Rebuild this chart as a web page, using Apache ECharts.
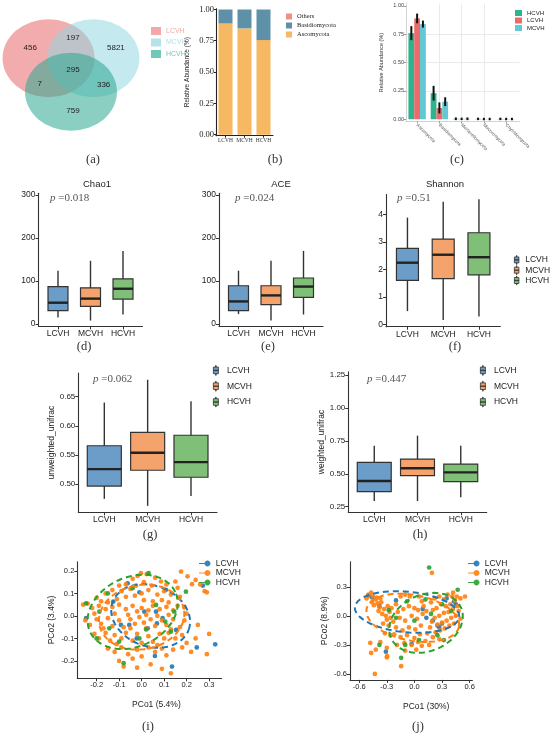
<!DOCTYPE html>
<html>
<head>
<meta charset="utf-8">
<script src="https://cdn.jsdelivr.net/npm/echarts@6/dist/echarts.min.js"></script>
<style>
  html, body { margin: 0; padding: 0; background: #fff; }
  #page { position: relative; width: 550px; height: 736px; }
  .layer { position: absolute; left: 0; top: 0; width: 550px; height: 736px; }
</style>
</head>
<body>
<div id="page"></div>
<script>
// ---------- data ----------
const GROUPS = ['LCVH', 'MCVH', 'HCVH'];

// (a) Venn: L only, L&M, M only, all three, L&H, M&H, H only
const VENN_SETS = ['LCVH', 'MCVH', 'HCVH'];
const VENN_COUNTS = [456, 197, 5821, 295, 7, 336, 759];

// (b) phylum composition per group
const PHYLA_B = ['Ascomycota', 'Basidiomycota', 'Others'];
const ASCO_B = [0.887, 0.848, 0.755];
const BASIDIO_B = [0.111, 0.150, 0.243];
const OTHERS_B = [0.002, 0.002, 0.002];

// (c) mean relative abundance and error per phylum
const PHYLA_C = ['Ascomycota', 'Basidiomycota', 'Mortierellomycota', 'Mucoromycota', 'Chytridiomycota'];
const GROUPS_C = ['HCVH', 'LCVH', 'MCVH'];
const HCVH_C = [0.76, 0.23, 0.004, 0.003, 0.003];
const LCVH_C = [0.89, 0.10, 0.003, 0.002, 0.002];
const MCVH_C = [0.84, 0.155, 0.004, 0.002, 0.002];
const HCVH_C_ERR = [0.053, 0.056, 0.003, 0.002, 0.002];
const LCVH_C_ERR = [0.034, 0.04, 0.002, 0.002, 0.002];
const MCVH_C_ERR = [0.022, 0.03, 0.003, 0.002, 0.002];

// (d)-(h) boxplots: [lower whisker, Q1, median, Q3, upper whisker] for LCVH, MCVH, HCVH
const CHAO1_BOX = [[15, 31, 49.5, 87, 124], [8, 41, 59, 84, 147], [22, 58, 82, 105, 170]];
const ACE_BOX = [[23, 31, 52.5, 89, 124], [8, 45, 66.5, 89, 147], [22, 62, 87, 107, 170]];
const SHANNON_BOX = [[0.48, 1.6, 2.24, 2.76, 3.88], [0.16, 1.66, 2.53, 3.1, 4.46], [0.28, 1.8, 2.44, 3.33, 4.55]];
const UNWEIGHTED_BOX = [[0.475, 0.497, 0.526, 0.566, 0.640], [0.463, 0.524, 0.554, 0.589, 0.679], [0.480, 0.512, 0.538, 0.584, 0.642]];
const WEIGHTED_BOX = [[0.293, 0.364, 0.445, 0.587, 0.713], [0.293, 0.486, 0.542, 0.612, 0.79], [0.321, 0.44, 0.511, 0.574, 0.713]];
const P_VALUES = ['0.018', '0.024', '0.51', '0.062', '0.447'];

// (i) PCoA unweighted
const PCOA_I_LCVH = [[-0.062,0.145],[-0.01,0.105],[0.108,0.116],[0.272,0.135],[-0.126,0.064],[-0.247,-0.01],[0.012,0.019],[0.064,0.019],[-0.055,-0.04],[0.027,-0.055],[0.059,-0.178],[0.135,-0.225],[0.245,-0.14],[0.327,-0.126],[0.093,-0.01],[-0.092,-0.04],[-0.022,-0.1],[0.068,-0.033],[0.153,-0.062]];
const PCOA_I_MCVH = [
  [-0.003,0.19],[0.022,0.186],[-0.018,0.178],[-0.04,0.165],[0.086,0.153],[0.175,0.197],[0.204,0.176],[0.224,0.141],[0.15,0.153],[0.06,0.17],[-0.07,0.14],[-0.1,0.135],[0.11,0.14],[0.26,0.14],[0.01,0.15],[-0.025,0.135],[0.045,0.135],[0.16,0.125],[0.24,0.16],[0.29,0.105],
  [-0.16,0.1],[-0.13,0.115],[-0.09,0.11],[-0.05,0.12],[-0.03,0.09],[0.0,0.1],[0.03,0.115],[0.07,0.095],[0.1,0.11],[0.13,0.095],[0.17,0.085],[-0.2,0.08],[-0.18,0.065],[-0.11,0.075],[-0.07,0.085],[0.01,0.07],[0.05,0.065],[0.09,0.07],[0.12,0.06],[-0.15,0.06],[-0.24,0.055],[0.28,0.11],
  [-0.26,0.05],[-0.22,0.035],[-0.19,0.045],[-0.16,0.03],[-0.13,0.04],[-0.1,0.05],[-0.07,0.03],[-0.04,0.045],[-0.02,0.02],[0.0,0.035],[0.03,0.025],[0.05,0.045],[0.08,0.03],[0.11,0.04],[0.14,0.025],[0.16,0.045],[-0.21,0.01],[-0.12,0.01],[-0.06,0.005],[0.02,0.005],[0.07,0.0],[0.12,0.005],[0.2,0.01],[0.19,0.04],
  [-0.25,-0.02],[-0.23,-0.04],[-0.2,-0.015],[-0.18,-0.035],[-0.15,-0.01],[-0.13,-0.045],[-0.1,-0.02],[-0.08,-0.05],[-0.05,-0.015],[-0.03,-0.035],[-0.01,-0.005],[0.01,-0.03],[0.04,-0.015],[0.06,-0.045],[0.09,-0.02],[0.11,-0.04],[0.14,-0.015],[0.17,-0.05],[0.19,-0.02],[0.25,-0.04],[-0.17,-0.055],[-0.05,-0.055],[0.02,-0.055],[0.13,-0.06],
  [-0.21,-0.08],[-0.19,-0.1],[-0.16,-0.075],[-0.14,-0.11],[-0.12,-0.085],[-0.09,-0.1],[-0.07,-0.075],[-0.04,-0.11],[-0.02,-0.08],[0.0,-0.12],[0.03,-0.09],[0.05,-0.115],[0.08,-0.08],[0.1,-0.1],[0.12,-0.075],[0.15,-0.1],[0.18,-0.085],[-0.11,-0.125],[0.07,-0.13],[0.2,-0.12],[0.3,-0.08],[0.24,-0.1],
  [-0.15,-0.145],[-0.12,-0.16],[-0.09,-0.14],[-0.06,-0.17],[-0.02,-0.15],[0.0,-0.18],[0.03,-0.14],[0.06,-0.16],[0.09,-0.145],[0.11,-0.175],[0.14,-0.15],[0.18,-0.14],[0.29,-0.17],[0.22,-0.16],[-0.04,-0.19],
  [-0.08,-0.225],[-0.02,-0.23],[0.04,-0.215],[0.09,-0.235],[0.13,-0.255],[-0.1,-0.2]
];
const PCOA_I_HCVH = [[0.031,0.19],[0.197,0.108],[-0.247,0.056],[-0.08,-0.21],[0.105,-0.025],[0.13,-0.07],[-0.144,-0.055],[-0.188,0.019],[-0.04,0.123],[0.064,0.049],[-0.1,-0.114],[-0.01,-0.1],[0.145,0.019],[-0.2,-0.1],[0.02,-0.06],[-0.15,0.1]];
// confidence ellipses: [cx, cy, semi-major, semi-minor, angle deg]
const ELLIPSE_I = [[0.04, 0.0, 0.18, 0.135, -20], [0.0, -0.005, 0.191, 0.143, 10], [-0.04, 0.018, 0.209, 0.154, 25]];

// (j) PCoA weighted
const PCOA_J_LCVH = [[-0.5,0.21],[-0.46,0.19],[0.27,-0.12],[0.25,-0.1],[0.3,-0.08],[0.09,0.07],[0.43,0.15],[0.45,0.12],[-0.31,-0.37],[-0.03,-0.29],[0.13,-0.02],[-0.2,0.16],[0.35,0.18],[0.2,-0.05],[-0.38,0.1]];
const PCOA_J_MCVH = [
  [-0.5,0.22],[-0.47,0.24],[-0.45,0.2],[-0.52,0.18],[-0.42,0.17],[-0.4,0.13],[-0.44,0.11],[-0.38,0.09],[-0.36,0.14],[-0.33,0.07],[-0.35,0.02],[-0.31,0.0],[-0.39,0.05],[-0.29,0.1],[-0.27,0.04],[-0.3,-0.04],[-0.34,-0.08],[-0.26,-0.02],[-0.41,0.19],[-0.37,0.18],[-0.46,0.14],[-0.28,-0.1],[-0.23,-0.06],[-0.25,0.08],
  [-0.2,0.12],[-0.15,0.2],[-0.1,0.22],[-0.05,0.2],[0.05,0.2],[0.08,0.15],[-0.18,0.04],[-0.12,0.07],[-0.06,0.1],[0.0,0.08],[0.04,0.06],[0.1,0.1],[-0.16,-0.02],[-0.1,-0.05],[-0.03,0.0],[0.03,-0.03],[0.09,0.02],[0.13,0.05],[-0.2,-0.12],[-0.13,-0.15],[-0.06,-0.12],[0.01,-0.14],[0.07,-0.1],[-0.22,-0.19],[-0.15,-0.22],[-0.08,-0.2],[0.0,-0.23],[0.06,-0.19],[-0.11,-0.28],[-0.03,-0.3],[0.04,-0.27],[-0.19,-0.3],[-0.26,-0.2],[-0.32,-0.18],[-0.37,-0.27],[-0.42,-0.35],[-0.48,-0.28],[-0.3,-0.33],[-0.1,-0.36],[0.02,-0.35],
  [0.18,0.14],[0.22,0.18],[0.27,0.2],[0.32,0.17],[0.36,0.22],[0.42,0.24],[0.46,0.2],[0.5,0.18],[0.55,0.2],[0.44,0.16],[0.39,0.12],[0.34,0.1],[0.29,0.12],[0.24,0.08],[0.2,0.06],[0.47,0.1],[0.42,0.07],[0.37,0.04],[0.32,0.03],[0.27,0.0],[0.22,-0.02],[0.45,0.0],[0.4,-0.02],[0.35,-0.05],[0.3,-0.07],[0.25,-0.09],[0.19,-0.06],[0.43,-0.08],[0.38,-0.1],[0.33,-0.13],[0.28,-0.15],[0.23,-0.17],[0.17,-0.12],[0.14,-0.18],[0.2,-0.22],[0.27,-0.24],[0.12,-0.26],[0.16,-0.3],[0.08,-0.31],[0.48,0.05],[0.5,-0.03],[0.41,0.2],
  [0.19,0.445],[-0.43,-0.6],[-0.144,-0.52],[-0.296,-0.417],[-0.47,-0.383],[-0.3,-0.43]
];
const PCOA_J_HCVH = [[0.16,0.5],[-0.144,-0.434],[0.47,0.27],[-0.38,-0.3],[-0.2,-0.02],[-0.08,0.15],[0.12,0.17],[0.25,-0.2],[0.32,-0.25],[0.05,-0.25],[-0.1,-0.3],[0.4,0.05],[0.18,0.02],[-0.28,0.06],[0.3,0.12],[0.0,-0.05]];
const ELLIPSE_J = [[-0.08, 0.04, 0.57, 0.21, -5], [-0.018, -0.02, 0.511, 0.237, -10], [0.126, -0.072, 0.412, 0.294, 20]];

// ---------- styles ----------
const SANS = 'Liberation Sans, Arial, sans-serif';
const SERIF = 'Liberation Serif, Times New Roman, serif';
const VENN_FILL = ['#ec7f82', '#93d7e1', '#2aa890'];
const VENN_KEY = ['#f3a9aa', '#b4e4ea', '#6fc9b7'];
const B_COLORS = { Ascomycota: '#f6b862', Basidiomycota: '#5e90a8', Others: '#f28e86' };
const C_COLORS = ['#2db48e', '#ec6a68', '#61c8d4'];
const BOX_COLORS = ['#6c9dc8', '#f5a36c', '#80bf78'];
const PT_COLORS = ['#1f77b4', '#ff7f0e', '#2ca02c'];
const BOX_ICON = 'path://M2.8,0H3.2V2H2.8Z M0,2H6V10H0Z M0,5.8H6V6.2H0Z M2.8,10H3.2V12H2.8Z';
const PT_ICON = 'path://M0,2.4H11V3.6H0Z M11.5,3C11.5,4.657 10.157,6 8.5,6C6.843,6 5.5,4.657 5.5,3C5.5,1.343 6.843,0 8.5,0C10.157,0 11.5,1.343 11.5,3Z';

const page = document.getElementById('page');
function layer(option) {
  const d = document.createElement('div');
  d.className = 'layer';
  page.appendChild(d);
  const chart = echarts.init(d);
  chart.setOption(Object.assign({ animation: false, backgroundColor: 'transparent' }, option));
}

function text(str, x, y, style) {
  return {
    type: 'text', x, y, silent: true,
    style: Object.assign({ text: str, align: 'center', verticalAlign: 'middle', textAlign: 'center', textVerticalAlign: 'middle', fill: '#222', fontFamily: SANS, fontSize: 9 }, style)
  };
}
function tag(str, x, y) {
  return text(str, x, y, { fontFamily: SERIF, fontSize: 12.5, fill: '#333' });
}
function pText(val, x, y) {
  return {
    type: 'text', x, y, silent: true,
    style: {
      text: '{i|p} =' + val, verticalAlign: 'middle', textVerticalAlign: 'middle',
      fill: '#555', fontFamily: SERIF, fontSize: 11,
      rich: { i: { fontStyle: 'italic', fontFamily: SERIF, fontSize: 11, fill: '#555' } }
    }
  };
}

function axisBase(color) {
  return {
    axisLine: { show: true, onZero: false, lineStyle: { color: color || '#333', width: 1.1 } },
    axisTick: { show: true, length: 3, lineStyle: { color: color || '#333' } },
    splitLine: { show: false }
  };
}

// ---------- (a) Venn ----------
const vennCenters = [[-0.33, 0.3], [0.33, 0.3], [0, -0.3]];
const vennLabelAt = [[-0.6, 0.48], [0.03, 0.66], [0.66, 0.48], [0.03, 0.09], [-0.46, -0.16], [0.48, -0.18], [0.03, -0.64]];
layer({
  graphic: [tag('(a)', 93, 160)],
  grid: { left: 3, top: 19, width: 136, height: 112, outerBoundsMode: 'none' },
  xAxis: { type: 'value', min: -1, max: 1, show: false },
  yAxis: { type: 'value', min: -1, max: 1, show: false },
  legend: {
    orient: 'vertical', left: 146, top: 22, itemWidth: 10, itemHeight: 8, itemGap: 3.5,
    textStyle: { fontSize: 7, fontFamily: SANS },
    data: VENN_SETS.map((s, i) => ({ name: s, icon: 'rect', itemStyle: { color: VENN_KEY[i], opacity: 1 }, textStyle: { color: VENN_KEY[i] } }))
  },
  series: VENN_SETS.map((s, i) => ({
    type: 'scatter', name: s, data: [vennCenters[i]], symbolSize: [92, 78], silent: true,
    itemStyle: { color: VENN_FILL[i], opacity: i === 0 ? 0.65 : 0.55 }
  })).concat([{
    type: 'scatter', name: 'counts', data: VENN_COUNTS.map((c, i) => [vennLabelAt[i][0], vennLabelAt[i][1], c]),
    symbolSize: 2, itemStyle: { color: 'rgba(0,0,0,0)' }, silent: true, z: 5,
    label: { show: true, position: 'inside', formatter: p => String(p.value[2]), color: '#222', opacity: 1, fontSize: 8, fontFamily: SANS }
  }])
});

// ---------- (b) stacked composition ----------
layer({
  graphic: [tag('(b)', 275, 160)],
  grid: { left: 216, top: 8.7, width: 57, height: 127, outerBoundsMode: 'none' },
  xAxis: Object.assign(axisBase('#222'), {
    type: 'category', data: GROUPS,
    axisTick: { show: true, length: 2, alignWithLabel: true, lineStyle: { color: '#222' } },
    axisLabel: { fontFamily: SERIF, fontSize: 5.5, color: '#333', margin: 2, interval: 0 }
  }),
  yAxis: Object.assign(axisBase('#222'), {
    type: 'value', min: -0.008, max: 1.005,
    name: 'Relative Abundance (%)', nameLocation: 'middle', nameGap: 25,
    nameTextStyle: { fontSize: 6.5, fontFamily: SANS, color: '#222' },
    axisTick: { show: true, length: 2, customValues: [0, 0.25, 0.5, 0.75, 1], lineStyle: { color: '#222' } },
    axisLabel: { customValues: [0, 0.25, 0.5, 0.75, 1], formatter: v => v.toFixed(2), fontFamily: SERIF, fontSize: 8.5, color: '#222', margin: 2 }
  }),
  legend: {
    orient: 'vertical', left: 281, top: 8, itemWidth: 6, itemHeight: 6, itemGap: 2,
    textStyle: { fontSize: 6.5, fontFamily: SERIF, color: '#222' },
    data: ['Others', 'Basidiomycota', 'Ascomycota'].map(n => ({ name: n, icon: 'rect' }))
  },
  series: [
    { name: 'Ascomycota', values: ASCO_B },
    { name: 'Basidiomycota', values: BASIDIO_B },
    { name: 'Others', values: OTHERS_B }
  ].map(s => ({
    type: 'bar', name: s.name, stack: 'b', barWidth: 14, silent: true,
    data: s.values,
    itemStyle: { color: B_COLORS[s.name] }
  }))
});

// ---------- (c) grouped bars with error bars ----------
const cMeans = [HCVH_C, LCVH_C, MCVH_C];
const cErrs = [HCVH_C_ERR, LCVH_C_ERR, MCVH_C_ERR];
const C_BAR_W = 5.8;
function errRenderer(k) {
  return function (params, api) {
    const x = api.value(0), m = api.value(1), e = api.value(2);
    const lo = api.coord([x, m - e]), hi = api.coord([x, m + e]);
    const dx = (k - 1) * C_BAR_W;
    return {
      type: 'line',
      shape: { x1: lo[0] + dx, y1: lo[1], x2: hi[0] + dx, y2: hi[1] },
      style: { stroke: '#111', lineWidth: 2, lineCap: 'square' }
    };
  };
}
layer({
  graphic: [tag('(c)', 457, 160)],
  grid: { left: 406, top: 3.7, width: 113.5, height: 117.8, outerBoundsMode: 'none' },
  xAxis: {
    type: 'value', min: 0.5, max: 5.6,
    axisLine: { show: true, onZero: false, lineStyle: { color: '#c8c8c8', width: 0.8 } },
    axisTick: { show: true, length: 2, customValues: [1, 2, 3, 4, 5], lineStyle: { color: '#999' } },
    splitLine: { show: true, showMinLine: false, showMaxLine: false, lineStyle: { color: '#e4e4e4', width: 0.8 } },
    axisLabel: { customValues: [1, 2, 3, 4, 5], formatter: v => PHYLA_C[Math.round(v) - 1], rotate: -45, fontSize: 4.5, fontFamily: SANS, color: '#555', margin: 3 }
  },
  yAxis: {
    type: 'value', min: -0.02, max: 1.02,
    name: 'Relative Abundance (%)', nameLocation: 'middle', nameGap: 22,
    nameTextStyle: { fontSize: 5.5, fontFamily: SANS, color: '#333' },
    axisLine: { show: true, onZero: false, lineStyle: { color: '#c8c8c8', width: 0.8 } },
    axisTick: { show: true, length: 2, customValues: [0, 0.25, 0.5, 0.75, 1], lineStyle: { color: '#999' } },
    splitLine: { show: true, showMinLine: false, showMaxLine: false, lineStyle: { color: '#e4e4e4', width: 0.8 } },
    axisLabel: { customValues: [0, 0.25, 0.5, 0.75, 1], formatter: v => v.toFixed(2), fontSize: 5.5, fontFamily: SANS, color: '#444', margin: 2 }
  },
  legend: {
    orient: 'vertical', left: 510, top: 5, itemWidth: 7, itemHeight: 6, itemGap: 1.5,
    textStyle: { fontSize: 6, fontFamily: SANS, color: '#222' },
    data: GROUPS_C.map(n => ({ name: n, icon: 'rect' }))
  },
  series: GROUPS_C.map((g, k) => ({
    type: 'bar', name: g, barWidth: C_BAR_W, barGap: '0%', silent: true,
    data: cMeans[k].map((v, i) => [i + 1, v]),
    itemStyle: { color: C_COLORS[k] }
  })).concat(GROUPS_C.map((g, k) => ({
    type: 'custom', renderItem: errRenderer(k), silent: true, z: 5,
    data: cMeans[k].map((v, i) => [i + 1, v, cErrs[k][i]]),
    encode: { x: 0, y: 1 }
  })))
});

// ---------- (d)-(h) boxplots ----------
function boxRenderer(frac) {
  return function (params, api) {
    const x = api.value(0);
    const pLo = api.coord([x, api.value(1)]), pQ1 = api.coord([x, api.value(2)]);
    const pMd = api.coord([x, api.value(3)]), pQ3 = api.coord([x, api.value(4)]);
    const pHi = api.coord([x, api.value(5)]);
    const w = api.size([1, 0])[0] * frac;
    return {
      type: 'group',
      children: [
        { type: 'line', shape: { x1: pLo[0], y1: pLo[1], x2: pHi[0], y2: pHi[1] }, style: { stroke: '#333', lineWidth: 1.4 } },
        { type: 'rect', shape: { x: pQ1[0] - w / 2, y: pQ3[1], width: w, height: pQ1[1] - pQ3[1] }, style: { fill: api.visual('color'), stroke: '#333', lineWidth: 1.2 } },
        { type: 'line', shape: { x1: pMd[0] - w / 2, y1: pMd[1], x2: pMd[0] + w / 2, y2: pMd[1] }, style: { stroke: '#222', lineWidth: 2.4 } }
      ]
    };
  };
}

function boxPanel(cfg) {
  const opt = {
    graphic: cfg.texts,
    grid: { left: cfg.left, top: cfg.top, width: cfg.width, height: cfg.height, outerBoundsMode: 'none' },
    xAxis: Object.assign(axisBase(), {
      type: 'value', min: 0.4, max: 3.6,
      axisTick: { show: true, length: 3, customValues: [1, 2, 3], lineStyle: { color: '#333' } },
      axisLabel: { customValues: [1, 2, 3], formatter: v => GROUPS[Math.round(v) - 1], fontSize: 8.5, fontFamily: SANS, color: '#222', margin: 3 }
    }),
    yAxis: Object.assign(axisBase(), {
      type: 'value', min: cfg.yMin, max: cfg.yMax,
      axisTick: { show: true, length: 3, customValues: cfg.ticks, lineStyle: { color: '#333' } },
      axisLabel: { customValues: cfg.ticks, formatter: cfg.fmt, fontSize: cfg.tickSize || 8.5, fontFamily: SANS, color: '#222', margin: 3 }
    }),
    series: GROUPS.map((g, i) => ({
      type: 'custom', name: g, renderItem: boxRenderer(cfg.frac), silent: true,
      data: [[i + 1].concat(cfg.data[i])],
      encode: { x: 0, y: [1, 2, 3, 4, 5] },
      itemStyle: { color: BOX_COLORS[i] }
    }))
  };
  if (cfg.yName) {
    Object.assign(opt.yAxis, { name: cfg.yName, nameLocation: 'middle', nameGap: cfg.nameGap, nameTextStyle: { fontSize: 8.5, fontFamily: SANS, color: '#222' } });
  }
  if (cfg.legend) {
    opt.legend = Object.assign({
      orient: 'vertical', icon: BOX_ICON,
      itemStyle: { borderColor: '#333', borderWidth: 0.8 },
      textStyle: { fontFamily: SANS, color: '#222' },
      data: GROUPS
    }, cfg.legend);
  }
  layer(opt);
}

const intFmt = v => String(Math.round(v));
boxPanel({
  data: CHAO1_BOX, left: 38.5, top: 193.3, width: 104, height: 133.1, yMin: -5.6, yMax: 304,
  ticks: [0, 100, 200, 300], fmt: intFmt, frac: 0.615,
  texts: [text('Chao1', 97, 184, { fontSize: 9.5 }), pText(P_VALUES[0], 50, 198), tag('(d)', 84, 347)]
});
boxPanel({
  data: ACE_BOX, left: 219, top: 193.3, width: 104, height: 133.1, yMin: -5.6, yMax: 304,
  ticks: [0, 100, 200, 300], fmt: intFmt, frac: 0.615,
  texts: [text('ACE', 281, 184, { fontSize: 9.5 }), pText(P_VALUES[1], 235, 198), tag('(e)', 268, 347)]
});
boxPanel({
  data: SHANNON_BOX, left: 386, top: 194.5, width: 114.4, height: 132.2, yMin: -0.087, yMax: 4.72,
  ticks: [0, 1, 2, 3, 4], fmt: intFmt, frac: 0.615,
  texts: [text('Shannon', 445, 184, { fontSize: 9.5 }), pText(P_VALUES[2], 397, 198), tag('(f)', 455, 347)],
  legend: { left: 509, top: 250, itemWidth: 7, itemHeight: 9, itemGap: 0.5, itemTextGap: 4, textStyle: { fontSize: 8.5, fontFamily: SANS, color: '#222', lineHeight: 9 } }
});
boxPanel({
  data: UNWEIGHTED_BOX, left: 78.3, top: 373, width: 138.7, height: 139.3, yMin: 0.452, yMax: 0.6906,
  ticks: [0.5, 0.55, 0.6, 0.65], fmt: v => v.toFixed(2), frac: 0.785, tickSize: 8,
  yName: 'unweighted_unifrac', nameGap: 19,
  texts: [pText(P_VALUES[3], 93, 379), tag('(g)', 150, 535)],
  legend: { left: 208, top: 360, itemWidth: 12, itemHeight: 10, itemGap: 5, itemTextGap: 6, textStyle: { fontSize: 8.5, fontFamily: SANS, color: '#222', lineHeight: 10 } }
});
boxPanel({
  data: WEIGHTED_BOX, left: 348.3, top: 371.7, width: 138.4, height: 140.6, yMin: 0.2075, yMax: 1.276,
  ticks: [0.25, 0.5, 0.75, 1.0, 1.25], fmt: v => v.toFixed(2), frac: 0.785, tickSize: 8,
  yName: 'weighted_unifrac', nameGap: 22,
  texts: [pText(P_VALUES[4], 367, 379), tag('(h)', 420, 535)],
  legend: { left: 475, top: 360, itemWidth: 12, itemHeight: 10, itemGap: 5, itemTextGap: 6, textStyle: { fontSize: 8.5, fontFamily: SANS, color: '#222', lineHeight: 10 } }
});

// ---------- (i), (j) PCoA ----------
function ellipsePath(e) {
  const cx = e[0], cy = e[1], a = e[2], b = e[3], rot = e[4] * Math.PI / 180;
  const pts = [];
  for (let k = 0; k <= 80; k++) {
    const t = k / 80 * 2 * Math.PI;
    pts.push([
      cx + a * Math.cos(t) * Math.cos(rot) - b * Math.sin(t) * Math.sin(rot),
      cy + a * Math.cos(t) * Math.sin(rot) + b * Math.sin(t) * Math.cos(rot)
    ]);
  }
  return pts;
}

function pcoaPanel(cfg) {
  const series = [];
  GROUPS.forEach((g, i) => {
    series.push({
      type: 'scatter', name: g, data: cfg.points[i], symbolSize: 4.7, silent: true,
      itemStyle: { color: PT_COLORS[i], opacity: 0.9 }
    });
  });
  GROUPS.forEach((g, i) => {
    series.push({
      type: 'line', name: g, data: ellipsePath(cfg.ellipses[i]), symbol: 'none', showSymbol: false, silent: true, z: 3,
      lineStyle: { color: PT_COLORS[i], width: 2, type: [6, 4] }
    });
  });
  const fmt = v => v.toFixed(1);
  layer({
    graphic: cfg.texts,
    grid: { left: cfg.left, top: cfg.top, width: cfg.width, height: cfg.height, outerBoundsMode: 'none' },
    xAxis: Object.assign(axisBase(), {
      type: 'value', min: cfg.x[0], max: cfg.x[1],
      name: cfg.xName, nameLocation: 'middle', nameGap: 22,
      nameTextStyle: { fontSize: 8.5, fontFamily: SANS, color: '#222', padding: [0, 0, 0, cfg.xNameShift] },
      axisTick: { show: true, length: 3, customValues: cfg.xTicks, lineStyle: { color: '#333' } },
      axisLabel: { customValues: cfg.xTicks, formatter: fmt, fontSize: 7.5, fontFamily: SANS, color: '#222', margin: 3 }
    }),
    yAxis: Object.assign(axisBase(), {
      type: 'value', min: cfg.y[0], max: cfg.y[1],
      name: cfg.yName, nameLocation: 'middle', nameGap: 21,
      nameTextStyle: { fontSize: 8.5, fontFamily: SANS, color: '#222' },
      axisTick: { show: true, length: 3, customValues: cfg.yTicks, lineStyle: { color: '#333' } },
      axisLabel: { customValues: cfg.yTicks, formatter: fmt, fontSize: 7.5, fontFamily: SANS, color: '#222', margin: 3 }
    }),
    legend: {
      orient: 'vertical', left: cfg.legendLeft, top: 554, icon: PT_ICON, itemWidth: 12, itemHeight: 6, itemGap: 0.5, itemTextGap: 3,
      textStyle: { fontSize: 8.5, fontFamily: SANS, color: '#222', lineHeight: 8.5 },
      data: GROUPS.map((g, i) => ({ name: g, itemStyle: { color: PT_COLORS[i] } }))
    },
    series
  });
}

pcoaPanel({
  points: [PCOA_I_LCVH, PCOA_I_MCVH, PCOA_I_HCVH], ellipses: ELLIPSE_I,
  left: 77.3, top: 561.7, width: 144.2, height: 116.6, x: [-0.286, 0.355], y: [-0.277, 0.241],
  xTicks: [-0.2, -0.1, 0, 0.1, 0.2, 0.3], yTicks: [-0.2, -0.1, 0, 0.1, 0.2],
  xName: 'PCo1 (5.4%)', yName: 'PCo2 (3.4%)', xNameShift: 14, legendLeft: 194,
  texts: [tag('(i)', 148, 727)]
});
pcoaPanel({
  points: [PCOA_J_LCVH, PCOA_J_MCVH, PCOA_J_HCVH], ellipses: ELLIPSE_J,
  left: 350, top: 561.7, width: 122.4, height: 118.2, x: [-0.70, 0.63], y: [-0.662, 0.56],
  xTicks: [-0.6, -0.3, 0, 0.3, 0.6], yTicks: [-0.6, -0.3, 0, 0.3],
  xName: 'PCo1 (30%)', yName: 'PCo2 (8.9%)', xNameShift: 30, legendLeft: 463,
  texts: [tag('(j)', 418, 727)]
});
</script>
</body>
</html>
